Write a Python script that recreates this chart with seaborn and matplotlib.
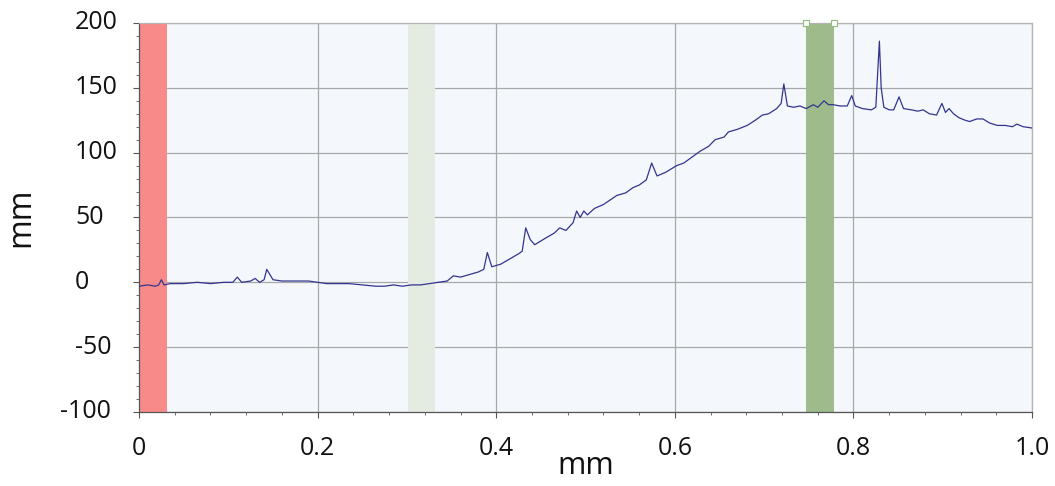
import matplotlib
matplotlib.use("Agg")
import matplotlib.pyplot as plt
from matplotlib.ticker import MultipleLocator, FuncFormatter
import seaborn as sns

# profile trace
x_mm = [0.000, 0.010, 0.018, 0.022, 0.025, 0.028, 0.035, 0.050, 0.065, 0.080,
        0.095, 0.105, 0.110, 0.115, 0.125, 0.130, 0.135, 0.140, 0.143, 0.150,
        0.160, 0.175, 0.190, 0.200, 0.210, 0.220, 0.235, 0.250, 0.265, 0.275,
        0.285, 0.295, 0.305, 0.315, 0.325, 0.335, 0.345, 0.352, 0.360, 0.370,
        0.380, 0.386, 0.390, 0.395, 0.405, 0.415, 0.425, 0.429, 0.433, 0.438,
        0.443, 0.455, 0.465, 0.471, 0.478, 0.486, 0.490, 0.494, 0.498, 0.502,
        0.510, 0.520, 0.535, 0.545, 0.553, 0.560, 0.568, 0.574, 0.580, 0.590,
        0.602, 0.610, 0.620, 0.628, 0.638, 0.645, 0.655, 0.660, 0.670, 0.681,
        0.690, 0.698, 0.705, 0.714, 0.719, 0.722, 0.726, 0.733, 0.740, 0.747,
        0.755, 0.760, 0.767, 0.772, 0.777, 0.785, 0.793, 0.798, 0.802, 0.810,
        0.820, 0.825, 0.829, 0.831, 0.834, 0.840, 0.845, 0.851, 0.856, 0.865,
        0.872, 0.878, 0.885, 0.893, 0.899, 0.903, 0.907, 0.912, 0.918, 0.925,
        0.930, 0.938, 0.945, 0.952, 0.961, 0.970, 0.978, 0.983, 0.990, 1.000]
h_mm = [-3, -2, -3, -2, 2, -2, -1, -1, 0, -1,
        0, 0, 4, 0, 1, 3, 0, 2, 10, 2,
        1, 1, 1, 0, -1, -1, -1, -2, -3, -3,
        -2, -3, -2, -2, -1, 0, 1, 5, 4, 6,
        8, 10, 23, 12, 14, 18, 22, 24, 42, 33,
        29, 34, 38, 42, 40, 46, 55, 50, 55, 52,
        57, 60, 67, 69, 73, 75, 79, 92, 82, 85,
        90, 92, 97, 101, 105, 110, 112, 116, 118, 121,
        125, 129, 130, 134, 138, 153, 136, 135, 136, 134,
        137, 135, 140, 137, 137, 136, 136, 144, 136, 134,
        133, 135, 186, 150, 135, 133, 133, 143, 134, 133,
        132, 133, 130, 129, 138, 131, 134, 130, 127, 125,
        124, 126, 126, 123, 121, 121, 120, 122, 120, 119]

# highlighted bands (start, end)
band_starts = [0.000, 0.301, 0.747]
band_ends = [0.031, 0.331, 0.778]
band_colors = ["#f98a8a", "#e4ebe1", "#9ebc8b"]

y_ticks = [-100, -50, 0, 50, 100, 150, 200]

sns.set_style("white")
plt.rcParams["font.family"] = ["Open Sans", "DejaVu Sans"]
plt.rcParams["text.color"] = "#111111"
plt.rcParams["xtick.labelcolor"] = "#111111"
plt.rcParams["axes.labelcolor"] = "#111111"

fig = plt.figure(figsize=(10.55, 4.86), dpi=100)
ax = fig.add_axes([0.1318, 0.1523, 0.8465, 0.8004])
ax.set_facecolor("#f4f8fc")

for s, e, c in zip(band_starts, band_ends, band_colors):
    ax.axvspan(s, e, color=c, lw=0, zorder=1)

# handles on top of the green band
ax.scatter([band_starts[2], band_ends[2]], [200, 200], marker="s", s=14,
           facecolor="white", edgecolor="#8fbf7a", lw=0.8, clip_on=False, zorder=5)

sns.lineplot(x=x_mm, y=h_mm, ax=ax, color="#34348f", lw=0.9, zorder=4)

ax.set_xlim(0, 1.0)
ax.set_ylim(-100, 200)
ax.xaxis.set_major_locator(MultipleLocator(0.2))
ax.xaxis.set_minor_locator(MultipleLocator(0.04))
ax.set_yticks(y_ticks)
ax.yaxis.set_minor_locator(MultipleLocator(10))
ax.xaxis.set_major_formatter(FuncFormatter(lambda v, p: "0" if v == 0 else f"{v:.1f}"))
ax.grid(True, which="major", color="#a8a8a8", lw=0.9, zorder=2)
ax.set_axisbelow(True)

ax.tick_params(which="major", direction="out", length=4, width=0.8,
               color="#555555", labelsize=18, left=True, bottom=True)
ax.tick_params(which="minor", direction="out", length=2.5, width=0.6,
               color="#555555", left=True, bottom=True)
ax.tick_params(axis="x", pad=13)
ax.tick_params(axis="y", labelleft=False)

# y labels: positives left-aligned, negatives hang to the left
for v in y_ticks:
    if v < 0:
        ax.text(-0.031, v, f"{v}", ha="right", va="center", fontsize=18,
                transform=ax.get_yaxis_transform())
    else:
        ax.text(-0.0717, v, f"{v}", ha="left", va="center", fontsize=18,
                transform=ax.get_yaxis_transform())

for side in ["top", "right"]:
    ax.spines[side].set_color("#b4b4b4")
for side in ["left", "bottom"]:
    ax.spines[side].set_color("#555555")
for sp in ax.spines.values():
    sp.set_linewidth(0.9)

ax.set_xlabel("mm", fontsize=22)
ax.set_ylabel("mm", fontsize=23)
ax.xaxis.set_label_coords(0.5, -0.1)
ax.yaxis.set_label_coords(-0.114, 0.5)

fig.savefig("out.png", dpi=100)
